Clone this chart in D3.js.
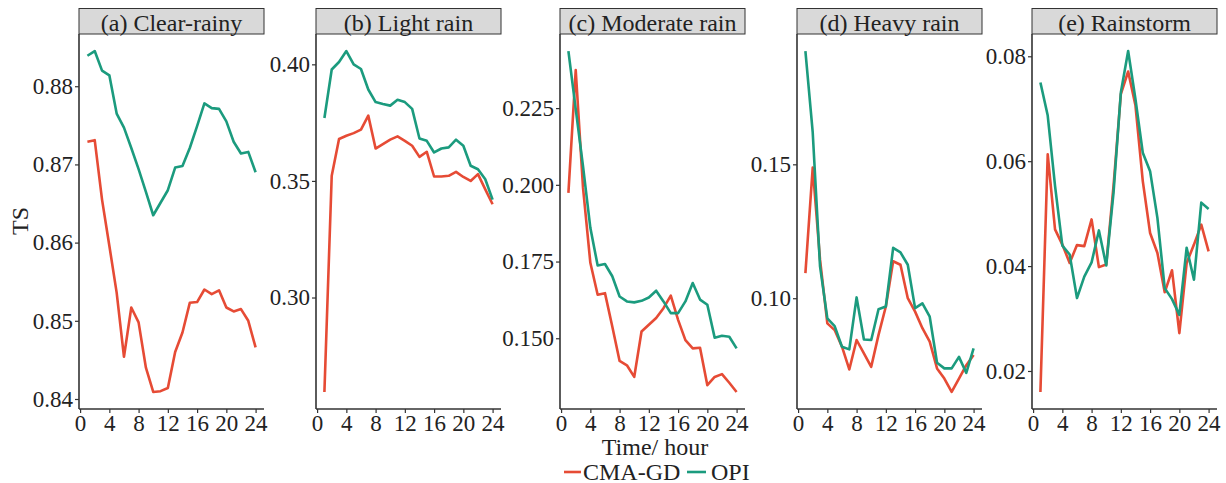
<!DOCTYPE html>
<html><head><meta charset="utf-8">
<script src="https://cdn.jsdelivr.net/npm/d3@7"></script>
<style>
body{margin:0;background:#fff;}
svg{display:block;font-family:"Liberation Serif","Times New Roman",serif;}
</style></head>
<body><svg id="chart" width="1226" height="483"></svg>
<script>
const hours = [1,2,3,4,5,6,7,8,9,10,11,12,13,14,15,16,17,18,19,20,21,22,23,24];
const xTicks = [0,4,8,12,16,20,24];
const seriesNames = ["CMA-GD","OPI"];
const panelTitles = ["(a) Clear-rainy","(b) Light rain","(c) Moderate rain","(d) Heavy rain","(e) Rainstorm"];

const clearRainyCMA = [0.8729,0.8731,0.8655,0.8596,0.8536,0.8454,0.8517,0.8498,0.8440,0.8409,0.8410,0.8414,0.8460,0.8485,0.8523,0.8524,0.8540,0.8534,0.8539,0.8517,0.8512,0.8515,0.8500,0.8466];
const clearRainyOPI = [0.8839,0.8845,0.8820,0.8814,0.8765,0.8747,0.8721,0.8694,0.8665,0.8635,0.8651,0.8667,0.8696,0.8698,0.8721,0.8749,0.8778,0.8772,0.8771,0.8755,0.8729,0.8714,0.8716,0.8690];
const lightCMA = [0.2595,0.3522,0.3680,0.3694,0.3705,0.3720,0.3780,0.3639,0.3658,0.3677,0.3691,0.3672,0.3651,0.3603,0.3625,0.3519,0.3519,0.3522,0.3539,0.3517,0.3500,0.3529,0.3464,0.3400];
const lightOPI = [0.3770,0.3978,0.4010,0.4057,0.4000,0.3980,0.3892,0.3838,0.3830,0.3823,0.3848,0.3838,0.3809,0.3682,0.3672,0.3622,0.3639,0.3644,0.3677,0.3651,0.3565,0.3550,0.3507,0.3420];
const moderateCMA = [0.1974,0.2374,0.1990,0.1746,0.1642,0.1647,0.1538,0.1426,0.1412,0.1374,0.1522,0.1544,0.1566,0.1598,0.1639,0.1560,0.1494,0.1467,0.1469,0.1347,0.1374,0.1383,0.1355,0.1325];
const moderateOPI = [0.2436,0.2247,0.2060,0.1860,0.1737,0.1742,0.1702,0.1636,0.1620,0.1617,0.1622,0.1633,0.1655,0.1620,0.1582,0.1582,0.1620,0.1680,0.1626,0.1609,0.1502,0.1508,0.1505,0.1467];
const heavyCMA = [0.1094,0.1488,0.1144,0.0906,0.0881,0.0819,0.0734,0.0844,0.0794,0.0744,0.0863,0.0969,0.1138,0.1125,0.1000,0.0950,0.0888,0.0838,0.0738,0.0700,0.0650,0.0700,0.0750,0.0788];
const heavyOPI = [0.1923,0.1619,0.1119,0.0925,0.0896,0.0819,0.0809,0.1003,0.0846,0.0844,0.0959,0.0969,0.1188,0.1171,0.1125,0.0963,0.0981,0.0931,0.0759,0.0738,0.0738,0.0781,0.0721,0.0813];
const stormCMA = [0.0160,0.0613,0.0470,0.0441,0.0406,0.0440,0.0438,0.0489,0.0398,0.0403,0.0553,0.0728,0.0771,0.0706,0.0562,0.0463,0.0425,0.0350,0.0392,0.0272,0.0406,0.0441,0.0479,0.0428];
const stormOPI = [0.0750,0.0687,0.0553,0.0439,0.0422,0.0339,0.0380,0.0407,0.0468,0.0401,0.0540,0.0731,0.0810,0.0718,0.0616,0.0581,0.0492,0.0358,0.0337,0.0307,0.0435,0.0374,0.0521,0.0509];

const yTicksA = [0.84,0.85,0.86,0.87,0.88];
const yTicksB = [0.30,0.35,0.40];
const yTicksC = [0.150,0.175,0.200,0.225];
const yTicksD = [0.10,0.15];
const yTicksE = [0.02,0.04,0.06,0.08];

const panels = [
  {title: panelTitles[0], cma: clearRainyCMA, opi: clearRainyOPI, ticks: yTicksA, fmt: ".2f"},
  {title: panelTitles[1], cma: lightCMA, opi: lightOPI, ticks: yTicksB, fmt: ".2f"},
  {title: panelTitles[2], cma: moderateCMA, opi: moderateOPI, ticks: yTicksC, fmt: ".3f"},
  {title: panelTitles[3], cma: heavyCMA, opi: heavyOPI, ticks: yTicksD, fmt: ".2f"},
  {title: panelTitles[4], cma: stormCMA, opi: stormOPI, ticks: yTicksE, fmt: ".2f"}
];

const colors = {"CMA-GD": "#E64B35", "OPI": "#1B9B7E"};
const panelLefts = [79, 316, 560, 797, 1032];
const panelW = 185, plotTop = 34, plotBottom = 409, stripTop = 8.5;
const textCol = "#222";
const svg = d3.select("#chart");

function expand(ext, f){ const r = ext[1]-ext[0]; return [ext[0]-r*f, ext[1]+r*f]; }

panels.forEach((p, i) => {
  const left = panelLefts[i];
  const x = d3.scaleLinear().domain(expand(d3.extent(hours), 0.05)).range([left, left + panelW]);
  const y = d3.scaleLinear().domain(expand(d3.extent(p.cma.concat(p.opi)), 0.05)).range([plotBottom, plotTop]);

  svg.append("rect").attr("x", left).attr("y", stripTop).attr("width", panelW).attr("height", plotTop - stripTop)
    .attr("fill", "#d9d9d9").attr("stroke", "#333").attr("stroke-width", 1);
  svg.append("text").attr("x", left + panelW/2).attr("y", 30.5).attr("text-anchor", "middle")
    .attr("font-size", 24).attr("fill", textCol).text(p.title);

  const gx = svg.append("g").attr("transform", `translate(0,${plotBottom})`)
    .call(d3.axisBottom(x).tickValues(xTicks).tickSize(4).tickPadding(2));
  const gy = svg.append("g").attr("transform", `translate(${left},0)`)
    .call(d3.axisLeft(y).tickValues(p.ticks).tickFormat(d3.format(p.fmt)).tickSize(4).tickPadding(2));
  [gx, gy].forEach(g => {
    g.select(".domain").attr("stroke", "#333").attr("stroke-width", 1.6);
    g.selectAll(".tick line").attr("stroke", "#333").attr("stroke-width", 1.2);
    g.selectAll(".tick text").attr("font-size", 23).attr("fill", textCol)
      .attr("font-family", "Liberation Serif, serif");
  });
  gx.select(".domain").attr("d", `M${left},0H${left+panelW}`);
  gy.select(".domain").attr("d", `M0,${plotTop}V${plotBottom}`);

  const line = d3.line().x((d, j) => x(hours[j])).y(d => y(d));
  [["CMA-GD", p.cma], ["OPI", p.opi]].forEach(([name, vals]) => {
    svg.append("path").datum(vals).attr("d", line).attr("fill", "none")
      .attr("stroke", colors[name]).attr("stroke-width", 2.6).attr("stroke-linejoin", "round");
  });
});

svg.append("text").attr("transform", "translate(28,221) rotate(-90)").attr("text-anchor", "middle")
  .attr("font-size", 24).attr("fill", textCol).text("TS");
svg.append("text").attr("x", 655).attr("y", 455).attr("text-anchor", "middle")
  .attr("font-size", 24).attr("fill", textCol).text("Time/ hour");

const legendItems = [{name: seriesNames[0], x: 564, w: 17, tx: 583}, {name: seriesNames[1], x: 687, w: 19, tx: 711}];
legendItems.forEach(it => {
  svg.append("line").attr("x1", it.x).attr("x2", it.x + it.w).attr("y1", 472).attr("y2", 472)
    .attr("stroke", colors[it.name]).attr("stroke-width", 2.6);
  svg.append("text").attr("x", it.tx).attr("y", 479.5).attr("font-size", 24)
    .attr("fill", textCol).text(it.name);
});
</script></body></html>
